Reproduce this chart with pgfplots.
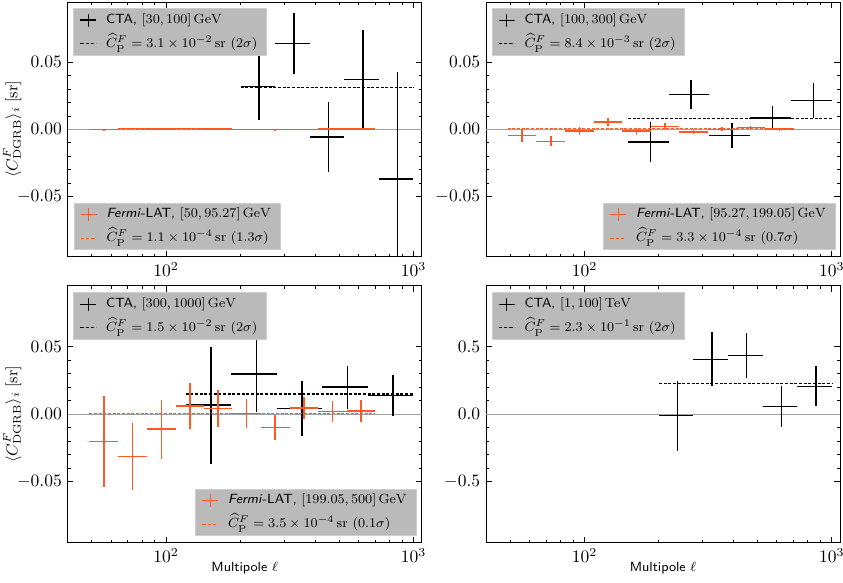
\RequirePackage{fix-cm}
\documentclass[border=0pt]{standalone}
\usepackage{pgfplots}
\pgfplotsset{compat=1.18}
\definecolor{fermi}{RGB}{255,88,34}
\definecolor{lgfill}{RGB}{186,186,186}
\definecolor{lgedge}{RGB}{206,206,206}
\definecolor{zeroline}{RGB}{160,160,160}
\pgfplotsset{
  every axis/.append style={
    scale only axis, width=212.4pt,
    xmin=40, xmax=1080,
    xtick={100,1000},
    minor xtick={40,50,60,70,80,90,200,300,400,500,600,700,800,900},
    minor y tick num=4,
    scaled y ticks=false,
    tick align=inside,
    major tick length=3.4pt, minor tick length=1.8pt,
    axis line style={line width=0.6pt},
    tick style={black, line width=0.5pt},
    tick label style={font=\fontsize{10.5}{12}\selectfont},
    legend cell align=left,
    legend style={fill=lgfill, draw=lgedge, line width=0.5pt,
      font=\fontsize{8}{9.5}\selectfont,
      inner xsep=3.5pt, inner ysep=0.5pt, row sep=1.5pt,
      nodes={text height=6.4pt, text depth=2.3pt, inner ysep=2pt, inner xsep=2pt},
      /tikz/every odd column/.append style={column sep=3.5pt}},
  },
}
\pgfplotsset{
  mycta/.style={black, draw=none, mark=none,
    legend image code/.code={
      \draw[black,line width=0.85pt] (0pt,0pt) -- (9.6pt,0pt);
      \draw[black,line width=0.85pt] (4.8pt,-4pt) -- (4.8pt,4pt);},
    error bars/x dir=both, error bars/x explicit,
    error bars/y dir=both, error bars/y explicit,
    error bars/error mark=none,
    error bars/error bar style={draw=black, line width=0.9pt, solid}},
  myfer/.style={fermi, draw=none, mark=none,
    legend image code/.code={
      \draw[fermi,line width=0.85pt] (0pt,0pt) -- (9.6pt,0pt);
      \draw[fermi,line width=0.85pt] (4.8pt,-4pt) -- (4.8pt,4pt);},
    error bars/x dir=both, error bars/x explicit,
    error bars/y dir=both, error bars/y explicit,
    error bars/error mark=none,
    error bars/error bar style={draw=fermi, line width=0.9pt, solid}},
  myctadash/.style={black, line width=0.7pt, dash pattern=on 1.8pt off 1pt, mark=none,
    legend image code/.code={
      \draw[black, line width=0.7pt, dash pattern=on 2pt off 1.2pt] (0pt,0pt) -- (9.6pt,0pt);}},
  myferdash/.style={fermi, line width=0.7pt, dash pattern=on 1.8pt off 1pt, mark=none,
    legend image code/.code={
      \draw[fermi, line width=0.7pt, dash pattern=on 2pt off 1.2pt] (0pt,0pt) -- (9.6pt,0pt);}},
  myzero/.style={zeroline, line width=0.7pt, mark=none, forget plot},
}
\newcommand{\ylab}{$\langle C^{F}_{\mathrm{DGRB}}\rangle_i\;[\mathrm{sr}]$}
\begin{document}
\begin{tikzpicture}
\path[use as bounding box] (0,0) rectangle (505.8pt,349.2pt);

% ---------------- top left ----------------
\begin{semilogxaxis}[at={(40.6pt,195.2pt)}, anchor=south west, height=152.8pt,
  ymin=-0.095, ymax=0.095, ytick={-0.05,0,0.05},
  yticklabel style={/pgf/number format/fixed, /pgf/number format/fixed zerofill, /pgf/number format/precision=2},
  ylabel={\ylab}, ylabel style={font=\fontsize{9.5}{11}\selectfont, at={(axis description cs:-0.157,0.5)}, anchor=center},
  legend style={at={(0.016,0.975)}, anchor=north west}]
\addplot[myzero] coordinates {(40,0) (1080,0)};
\addplot[mycta] coordinates {
(238.0, 0.0320) +- (37.95, 0.0250)
(328.3, 0.0640) +- (52.40, 0.0230)
(453.0, -0.0057) +- (72.30, 0.0260)
(625.0, 0.0370) +- (99.75, 0.0370)
(862.4, -0.0370) +- (137.6, 0.0800)
};
\addlegendentry{\textsf{CTA,} $[30, 100]\,\mathrm{GeV}$}
\addplot[myctadash] coordinates {(200,0.031) (1000,0.031)};
\addlegendentry{$\widehat{C}^F_{\mathrm{P}}=3.1\times10^{-2}\,\mathrm{sr}\ (2\sigma)$}
\end{semilogxaxis}
\begin{semilogxaxis}[at={(40.6pt,195.2pt)}, anchor=south west, height=152.8pt, hide axis,
  ymin=-0.095, ymax=0.095,
  legend style={at={(0.017,0.026)}, anchor=south west}]
\addplot[myfer] coordinates {
(56.0, -0.0003) += (8.0, 0.0006) -= (7.0, 0.0006)
(73.2, 0.0007) += (10.6, 0.0005) -= (9.2, 0.0005)
(95.7, 0.0001) += (13.5, 0.0004) -= (11.9, 0.0004)
(124.7, 0.0007) += (17.6, 0.0004) -= (15.5, 0.0004)
(162.4, 0.0001) += (23.0, 0.0003) -= (20.1, 0.0003)
(211.6, -0.0001) += (30.0, 0.0003) -= (26.2, 0.0003)
(276.2, -0.0002) += (39.6, 0.0003) -= (34.6, 0.0003)
(360.7, 0.0000) += (51.3, 0.0002) -= (44.9, 0.0002)
(470.4, 0.0001) += (66.6, 0.0002) -= (58.4, 0.0002)
(613.5, 0.0001) += (87.5, 0.0002) -= (76.5, 0.0002)
};
\addlegendentry{\textsf{\textit{Fermi}-LAT,} $[50, 95.27]\,\mathrm{GeV}$}
\addplot[myferdash] coordinates {(49,0.00011) (701,0.00011)};
\addlegendentry{$\widehat{C}^F_{\mathrm{P}}=1.1\times10^{-4}\,\mathrm{sr}\ (1.3\sigma)$}
\end{semilogxaxis}

% ---------------- top right ----------------
\begin{semilogxaxis}[at={(291.6pt,195.2pt)}, anchor=south west, height=152.8pt,
  ymin=-0.095, ymax=0.095, ytick={-0.05,0,0.05},
  yticklabel style={/pgf/number format/fixed, /pgf/number format/fixed zerofill, /pgf/number format/precision=2},
  legend style={at={(0.016,0.975)}, anchor=north west}]
\addplot[myzero] coordinates {(40,0) (1080,0)};
\addplot[mycta] coordinates {
(184.6, -0.0094) +- (34.6, 0.0149)
(269.8, 0.0260) +- (50.6, 0.0110)
(394.3, -0.0045) +- (73.9, 0.0093)
(576.2, 0.0086) +- (108.0, 0.0088)
(842.1, 0.0215) +- (157.9, 0.0132)
};
\addlegendentry{\textsf{CTA,} $[100, 300]\,\mathrm{GeV}$}
\addplot[myctadash] coordinates {(150,0.0084) (1000,0.0084)};
\addlegendentry{$\widehat{C}^F_{\mathrm{P}}=8.4\times10^{-3}\,\mathrm{sr}\ (2\sigma)$}
\end{semilogxaxis}
\begin{semilogxaxis}[at={(291.6pt,195.2pt)}, anchor=south west, height=152.8pt, hide axis,
  ymin=-0.095, ymax=0.095,
  legend style={at={(0.987,0.026)}, anchor=south east}]
\addplot[myfer] coordinates {
(56.0, -0.0045) += (8.0, 0.0050) -= (7.0, 0.0050)
(73.2, -0.0089) += (10.6, 0.0036) -= (9.2, 0.0036)
(95.7, -0.0012) += (13.5, 0.0030) -= (11.9, 0.0030)
(124.7, 0.0053) += (17.6, 0.0028) -= (15.5, 0.0028)
(162.4, -0.0013) += (23.0, 0.0026) -= (20.1, 0.0026)
(211.6, 0.0023) += (30.0, 0.0024) -= (26.2, 0.0024)
(276.2, -0.0020) += (39.6, 0.0016) -= (34.6, 0.0016)
(360.7, 0.0000) += (51.3, 0.0015) -= (44.9, 0.0015)
(470.4, 0.0015) += (66.6, 0.0012) -= (58.4, 0.0012)
(613.5, 0.0001) += (87.5, 0.0010) -= (76.5, 0.0010)
};
\addlegendentry{\textsf{\textit{Fermi}-LAT,} $[95.27, 199.05]\,\mathrm{GeV}$}
\addplot[myferdash] coordinates {(49,0.00033) (701,0.00033)};
\addlegendentry{$\widehat{C}^F_{\mathrm{P}}=3.3\times10^{-4}\,\mathrm{sr}\ (0.7\sigma)$}
\end{semilogxaxis}

% ---------------- bottom left ----------------
\begin{semilogxaxis}[at={(40.6pt,23.6pt)}, anchor=south west, height=154pt,
  ymin=-0.095, ymax=0.095, ytick={-0.05,0,0.05},
  yticklabel style={/pgf/number format/fixed, /pgf/number format/fixed zerofill, /pgf/number format/precision=2},
  ylabel={\ylab}, ylabel style={font=\fontsize{9.5}{11}\selectfont, at={(axis description cs:-0.157,0.5)}, anchor=center},
  xlabel={\textsf{Multipole} $\ell$}, xlabel style={font=\fontsize{8}{9.5}\selectfont, at={(axis description cs:0.5,0)}, anchor=center, yshift=-15.5pt},
  legend style={at={(0.016,0.975)}, anchor=north west}]
\addplot[myzero] coordinates {(40,0) (1080,0)};
\addplot[mycta] coordinates {
(151.7, 0.0068) +- (31.7, 0.0432)
(231.8, 0.0299) +- (48.4, 0.0284)
(354.2, 0.0045) +- (74.0, 0.0205)
(541.3, 0.0201) +- (113.1, 0.0159)
(827.2, 0.0139) +- (172.8, 0.0154)
};
\addlegendentry{\textsf{CTA,} $[300, 1000]\,\mathrm{GeV}$}
\addplot[myctadash] coordinates {(120,0.015) (1000,0.015)};
\addlegendentry{$\widehat{C}^F_{\mathrm{P}}=1.5\times10^{-2}\,\mathrm{sr}\ (2\sigma)$}
\end{semilogxaxis}
\begin{semilogxaxis}[at={(40.6pt,23.6pt)}, anchor=south west, height=154pt, hide axis,
  ymin=-0.095, ymax=0.095,
  legend style={at={(0.985,0.026)}, anchor=south east}]
\addplot[myfer] coordinates {
(56.0, -0.0201) += (8.0, 0.0336) -= (7.0, 0.0336)
(73.2, -0.0311) += (10.6, 0.0246) -= (9.2, 0.0246)
(95.7, -0.0110) += (13.5, 0.0217) -= (11.9, 0.0217)
(124.7, 0.0062) += (17.6, 0.0171) -= (15.5, 0.0171)
(162.4, 0.0045) += (23.0, 0.0137) -= (20.1, 0.0137)
(211.6, 0.0006) += (30.0, 0.0108) -= (26.2, 0.0108)
(276.2, -0.0096) += (39.6, 0.0091) -= (34.6, 0.0091)
(360.7, 0.0046) += (51.3, 0.0081) -= (44.9, 0.0081)
(470.4, 0.0021) += (66.6, 0.0076) -= (58.4, 0.0076)
(613.5, 0.0024) += (87.5, 0.0084) -= (76.5, 0.0084)
};
\addlegendentry{\textsf{\textit{Fermi}-LAT,} $[199.05, 500]\,\mathrm{GeV}$}
\addplot[myferdash] coordinates {(49,0.00035) (701,0.00035)};
\addlegendentry{$\widehat{C}^F_{\mathrm{P}}=3.5\times10^{-4}\,\mathrm{sr}\ (0.1\sigma)$}
\end{semilogxaxis}

% ---------------- bottom right ----------------
\begin{semilogxaxis}[at={(291.6pt,23.6pt)}, anchor=south west, height=154pt,
  ymin=-0.95, ymax=0.95, ytick={-0.5,0,0.5},
  yticklabel style={/pgf/number format/fixed, /pgf/number format/fixed zerofill, /pgf/number format/precision=1},
  xlabel={\textsf{Multipole} $\ell$}, xlabel style={font=\fontsize{8}{9.5}\selectfont, at={(axis description cs:0.5,0)}, anchor=center, yshift=-15.5pt},
  legend style={at={(0.016,0.975)}, anchor=north west}]
\addplot[myzero] coordinates {(40,0) (1080,0)};
\addplot[mycta] coordinates {
(238.0, -0.010) +- (37.95, 0.260)
(328.3, 0.407) +- (52.40, 0.200)
(453.0, 0.434) +- (72.30, 0.168)
(625.0, 0.057) +- (99.75, 0.150)
(862.4, 0.207) +- (137.6, 0.148)
};
\addlegendentry{\textsf{CTA,} $[1, 100]\,\mathrm{TeV}$}
\addplot[myctadash] coordinates {(200,0.23) (1000,0.23)};
\addlegendentry{$\widehat{C}^F_{\mathrm{P}}=2.3\times10^{-1}\,\mathrm{sr}\ (2\sigma)$}
\end{semilogxaxis}
\end{tikzpicture}
\end{document}
